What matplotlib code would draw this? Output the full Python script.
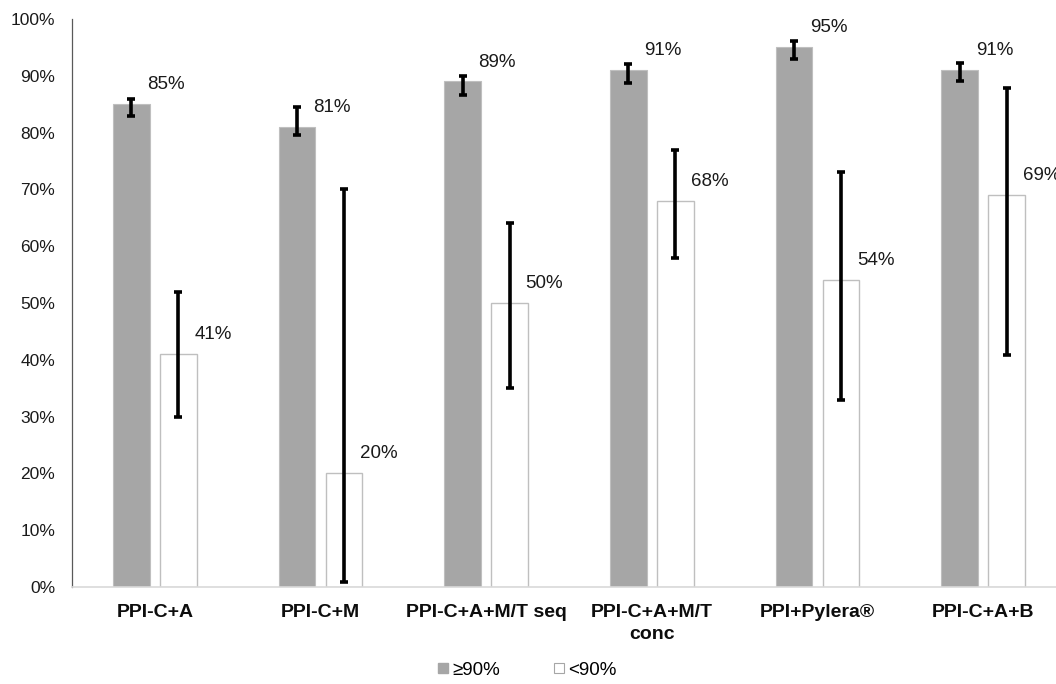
import numpy as np
import matplotlib as mpl; mpl.use("Agg")
import matplotlib.pyplot as plt
from matplotlib.ticker import PercentFormatter
from matplotlib.lines import Line2D

mpl.rcParams["font.family"] = ["Liberation Sans", "DejaVu Sans"]

# Data
# ------------------------------------------------------------------------------
categories = ["PPI-C+A", "PPI-C+M", "PPI-C+A+M/T seq", "PPI-C+A+M/T\nconc",
              "PPI+Pylera®", "PPI-C+A+B"]
hi_vals = [85, 81, 89, 91, 95, 91]          # >=90%
hi_low = [83, 79.5, 86.7, 88.7, 93, 89.1]
hi_high = [86, 84.5, 90, 92, 96.2, 92.3]
lo_vals = [41, 20, 50, 68, 54, 69]          # <90%
lo_low = [30, 0.8, 35, 58, 33, 40.8]
lo_high = [52, 70, 64, 77, 73, 87.8]
series_names = ["≥90%", "<90%"]

# Figure
# ------------------------------------------------------------------------------
fig = plt.figure(figsize=(10.56, 6.84), dpi=100)
ax = fig.add_axes([72/1056, 97/684, (1066-72)/1056, (587-19)/684])

x = np.arange(len(categories))
w = 0.22
off = 0.142

hi = np.array(hi_vals) / 100
lo = np.array(lo_vals) / 100
hi_err = [hi - np.array(hi_low)/100, np.array(hi_high)/100 - hi]
lo_err = [lo - np.array(lo_low)/100, np.array(lo_high)/100 - lo]

ax.bar(x - off, hi, w, color="#a6a6a6", edgecolor="#bfbfbf", linewidth=0.8, zorder=2)
ax.bar(x + off, lo, w, color="white", edgecolor="#bfbfbf", linewidth=1.0, zorder=2)
ekw = dict(fmt="none", ecolor="black", elinewidth=2.6, capsize=2.8, capthick=2.6, zorder=3)
ax.errorbar(x - off, hi, yerr=hi_err, **ekw)
ax.errorbar(x + off, lo, yerr=lo_err, **ekw)

for xi, v in zip(x - off, hi_vals):
    ax.annotate(f"{v}%", (xi, v/100), xytext=(25, 14), textcoords="offset points",
                ha="center", va="center", fontsize=13.5, color="#1a1a1a")
for xi, v in zip(x + off, lo_vals):
    ax.annotate(f"{v}%", (xi, v/100), xytext=(25, 14), textcoords="offset points",
                ha="center", va="center", fontsize=13.5, color="#1a1a1a")

ax.set_xlim(-0.5, len(categories) - 0.5)
ax.set_ylim(0, 1)
ax.set_yticks(np.arange(0, 1.01, 0.1))
ax.yaxis.set_major_formatter(PercentFormatter(1.0, decimals=0))
ax.set_xticks(x)
ax.set_xticklabels(categories, fontweight="bold", fontsize=14, linespacing=1.4)
ax.tick_params(axis="y", length=0, pad=12, labelsize=12.5, labelcolor="#1a1a1a")
ax.tick_params(axis="x", length=0, pad=12, labelcolor="#0d0d0d")

for s in ["top", "right"]:
    ax.spines[s].set_visible(False)
ax.spines["left"].set_color("#595959")
ax.spines["left"].set_linewidth(0.9)
ax.spines["bottom"].set_color("#d9d9d9")
ax.spines["bottom"].set_linewidth(1.2)

handles = [
    Line2D([], [], marker="s", ls="none", markersize=7, markerfacecolor="#a6a6a6",
           markeredgecolor="#a6a6a6"),
    Line2D([], [], marker="s", ls="none", markersize=7, markerfacecolor="white",
           markeredgecolor="#a6a6a6", markeredgewidth=0.8),
]
fig.legend(handles, series_names, loc="center", bbox_to_anchor=(526/1056, 1 - 670/684),
           ncol=2, frameon=False, fontsize=13.5, handletextpad=0.1, columnspacing=2.7,
           handlelength=0.8)

fig.savefig("out.png", dpi=100)
